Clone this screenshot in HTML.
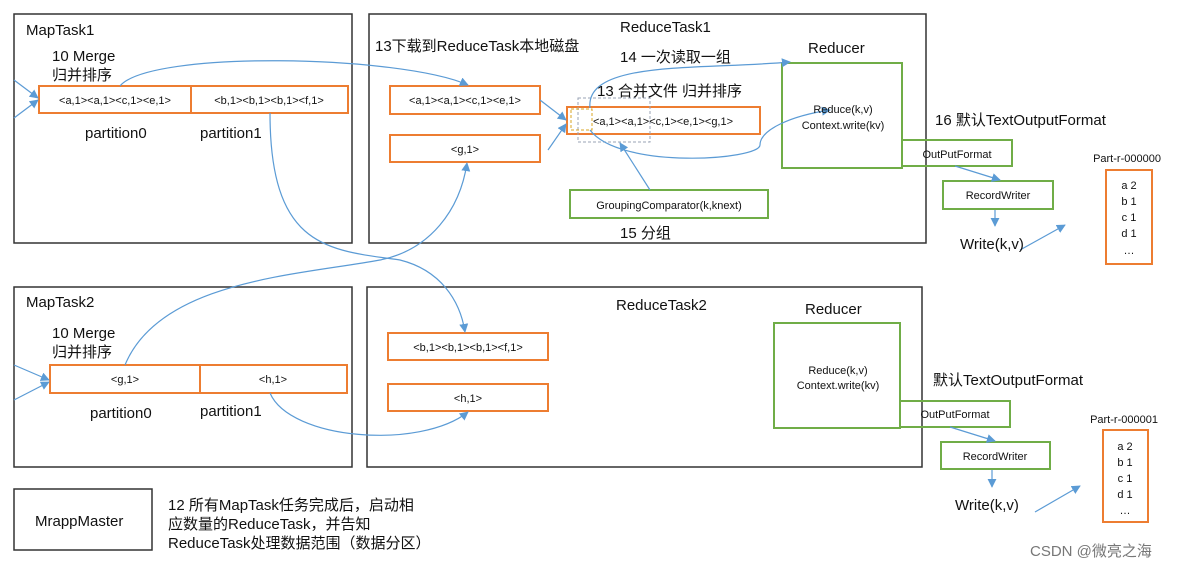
<!DOCTYPE html>
<html><head><meta charset="utf-8"><style>
html,body{margin:0;padding:0;background:#fff}
svg{display:block}
text{font-family:"Liberation Sans","Noto Sans CJK SC",sans-serif;fill:#111}
</style></head><body>
<svg width="1194" height="570" viewBox="0 0 1194 570" xmlns="http://www.w3.org/2000/svg">
<defs>
<marker id="a" viewBox="0 0 10 10" refX="9" refY="5" markerWidth="9" markerHeight="9" orient="auto" markerUnits="userSpaceOnUse"><path d="M0,0L10,5L0,10z" fill="#5b9bd5"/></marker>
</defs>
<g fill="none" stroke="#333" stroke-width="1.5">
<rect x="14" y="14" width="338" height="229"/>
<rect x="369" y="14" width="557" height="229"/>
<rect x="14" y="287" width="338" height="180"/>
<rect x="367" y="287" width="555" height="180"/>
<rect x="14" y="489" width="138" height="61"/>
</g>
<g fill="none" stroke="#ed7d31" stroke-width="2">
<rect x="39" y="86" width="152" height="27"/><rect x="191" y="86" width="157" height="27"/>
<rect x="390" y="86" width="150" height="28"/><rect x="390" y="135" width="150" height="27"/>
<rect x="567" y="107" width="193" height="27"/>
<rect x="50" y="365" width="150" height="28"/><rect x="200" y="365" width="147" height="28"/>
<rect x="388" y="333" width="160" height="27"/><rect x="388" y="384" width="160" height="27"/>
<rect x="1106" y="170" width="46" height="94"/><rect x="1103" y="430" width="45" height="92"/>
</g>
<rect x="578" y="98" width="72" height="44" fill="none" stroke="#9aa3b5" stroke-dasharray="3,2"/>
<rect x="571" y="109" width="21" height="21" fill="none" stroke="#d9a520" stroke-dasharray="3,2"/>
<g fill="none" stroke="#70ad47" stroke-width="2">
<rect x="782" y="63" width="120" height="105"/><rect x="570" y="190" width="198" height="28"/>
<rect x="902" y="140" width="110" height="26"/><rect x="943" y="181" width="110" height="28"/>
<rect x="774" y="323" width="126" height="105"/><rect x="900" y="401" width="110" height="26"/>
<rect x="941" y="442" width="109" height="27"/>
</g>
<g fill="none" stroke="#5b9bd5" stroke-width="1.2" marker-end="url(#a)">
<path d="M14,80 L38,98"/><path d="M14,118 L38,100"/>
<path d="M120,86 C150,50 400,55 468,85"/>
<path d="M270,113 C270,250 330,250 400,260 C440,270 460,300 465,332"/>
<path d="M125,365 C160,280 300,275 380,260 C430,250 460,210 467,163"/>
<path d="M540,100 L566,120"/><path d="M548,150 L566,124"/>
<path d="M590,108 C585,60 700,70 790,62"/>
<path d="M590,130 C620,170 760,160 760,145 C760,130 790,116 830,110"/>
<path d="M650,190 L620,143"/>
<path d="M955,166 L1000,180"/><path d="M995,210 L995,226"/><path d="M1020,250 L1065,225"/>
<path d="M14,365 L49,380"/><path d="M14,400 L49,382"/>
<path d="M270,393 C290,440 420,450 468,412"/>
<path d="M950,427 L995,441"/><path d="M992,470 L992,487"/><path d="M1035,512 L1080,486"/>
</g>
<g font-size="15">
<text x="26" y="35">MapTask1</text><text x="52" y="61">10 Merge</text><text x="52" y="80">归并排序</text>
<text x="85" y="138">partition0</text><text x="200" y="138">partition1</text>
<text x="620" y="32">ReduceTask1</text><text x="375" y="51">13下载到ReduceTask本地磁盘</text>
<text x="620" y="62">14 一次读取一组</text><text x="597" y="96">13 合并文件 归并排序</text>
<text x="808" y="53">Reducer</text><text x="620" y="238">15 分组</text>
<text x="935" y="125">16 默认TextOutputFormat</text><text x="960" y="249">Write(k,v)</text>
<text x="26" y="307">MapTask2</text><text x="52" y="338">10 Merge</text><text x="52" y="357">归并排序</text>
<text x="90" y="418">partition0</text><text x="200" y="416">partition1</text>
<text x="616" y="310">ReduceTask2</text><text x="805" y="314">Reducer</text>
<text x="933" y="385">默认TextOutputFormat</text><text x="955" y="510">Write(k,v)</text>
<text x="35" y="526">MrappMaster</text>
<text x="168" y="510">12 所有MapTask任务完成后，启动相</text>
<text x="168" y="529">应数量的ReduceTask，并告知</text>
<text x="168" y="548">ReduceTask处理数据范围（数据分区）</text>
</g>
<g font-size="11" text-anchor="middle">
<text x="115" y="104">&lt;a,1&gt;&lt;a,1&gt;&lt;c,1&gt;&lt;e,1&gt;</text><text x="269" y="104">&lt;b,1&gt;&lt;b,1&gt;&lt;b,1&gt;&lt;f,1&gt;</text>
<text x="465" y="104">&lt;a,1&gt;&lt;a,1&gt;&lt;c,1&gt;&lt;e,1&gt;</text><text x="465" y="153">&lt;g,1&gt;</text>
<text x="663" y="125">&lt;a,1&gt;&lt;a,1&gt;&lt;c,1&gt;&lt;e,1&gt;&lt;g,1&gt;</text>
<text x="843" y="113">Reduce(k,v)</text><text x="843" y="129">Context.write(kv)</text>
<text x="669" y="209">GroupingComparator(k,knext)</text>
<text x="957" y="158">OutPutFormat</text><text x="998" y="199">RecordWriter</text>
<text x="1127" y="162">Part-r-000000</text>
<text x="1129" y="189">a 2</text><text x="1129" y="205">b 1</text><text x="1129" y="221">c 1</text><text x="1129" y="237">d 1</text><text x="1129" y="254">…</text>
<text x="125" y="383">&lt;g,1&gt;</text><text x="273" y="383">&lt;h,1&gt;</text>
<text x="468" y="351">&lt;b,1&gt;&lt;b,1&gt;&lt;b,1&gt;&lt;f,1&gt;</text><text x="468" y="402">&lt;h,1&gt;</text>
<text x="838" y="374">Reduce(k,v)</text><text x="838" y="389">Context.write(kv)</text>
<text x="955" y="418">OutPutFormat</text><text x="995" y="460">RecordWriter</text>
<text x="1124" y="423">Part-r-000001</text>
<text x="1125" y="450">a 2</text><text x="1125" y="466">b 1</text><text x="1125" y="482">c 1</text><text x="1125" y="498">d 1</text><text x="1125" y="514">…</text>
</g>
<text x="1030" y="556" font-size="15" style="fill:#777">CSDN @微亮之海</text>
</svg>
</body></html>
